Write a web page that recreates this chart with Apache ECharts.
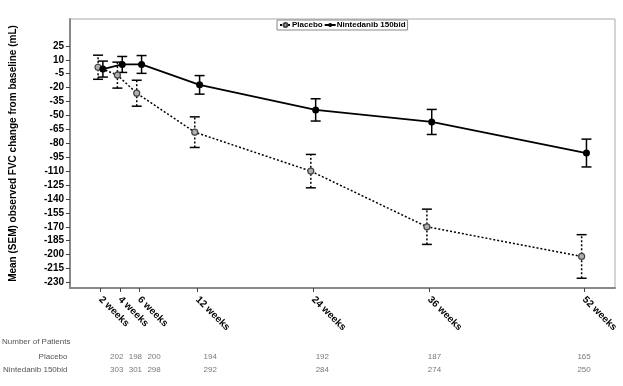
<!DOCTYPE html>
<html><head><meta charset="utf-8">
<script src="https://cdn.jsdelivr.net/npm/echarts@6/dist/echarts.min.js"></script>
<style>html,body{margin:0;padding:0;background:#fff}#c{width:623px;height:386px}</style>
</head><body><div id="c"></div>
<script>
// ---- data ----
const weeks = [2, 4, 6, 12, 24, 36, 52];
const weekLabels = ['2 weeks', '4 weeks', '6 weeks', '12 weeks', '24 weeks', '36 weeks', '52 weeks'];
const placeboMean = [2, -6.5, -26, -68, -110, -170, -202];
const placeboSem = [13, 14, 14, 16.5, 18, 19, 23.5];
const ninMean = [0, 5, 5, -17, -44, -57, -90.5];
const ninSem = [8.6, 8.6, 9.6, 10, 12, 13.5, 15];
const placeboN = [202, 198, 200, 194, 192, 187, 165];
const ninN = [303, 301, 298, 292, 284, 274, 250];
const yTicks = [25, 10, -5, -20, -35, -50, -65, -80, -95, -110, -125, -140, -155, -170, -185, -200, -215, -230];
const seriesNames = ['Placebo', 'Nintedanib 150bid'];
const dodge = 0.25;

const pts = (means, d) => weeks.map((w, i) => [w + d, means[i]]);
const errs = (means, sems, d) => weeks.map((w, i) => [w + d, means[i] - sems[i], means[i] + sems[i]]);

function errRender(dashed) {
  return function (params, api) {
    const x = api.value(0);
    const lo = api.coord([x, api.value(1)]);
    const hi = api.coord([x, api.value(2)]);
    const cw = 5;
    const st = { stroke: '#000', lineWidth: 1.5 };
    return {
      type: 'group',
      children: [
        { type: 'line', shape: { x1: lo[0], y1: lo[1], x2: hi[0], y2: hi[1] },
          style: Object.assign({}, st, dashed ? { lineDash: [2, 2] } : {}) },
        { type: 'line', shape: { x1: lo[0] - cw, y1: lo[1], x2: lo[0] + cw, y2: lo[1] }, style: st },
        { type: 'line', shape: { x1: hi[0] - cw, y1: hi[1], x2: hi[0] + cw, y2: hi[1] }, style: st }
      ]
    };
  };
}

const chart = echarts.init(document.getElementById('c'), null, { renderer: 'canvas' });
const font = 'Liberation Sans, Arial, sans-serif';
chart.setOption({
  animation: false,
  textStyle: { fontFamily: font },
  legend: {
    data: seriesNames,
    left: 277, top: 20,
    orient: 'horizontal',
    borderColor: '#888', borderWidth: 1,
    padding: [1, 2], itemGap: 1, itemWidth: 11, itemHeight: 5,
    textStyle: { fontSize: 8, fontWeight: 'bold', color: '#000', fontFamily: font, padding: [0, 0, 0, -4] }
  },
  grid: [
    { left: 70, top: 19, right: 8, bottom: 98, show: true, borderColor: '#aaa', borderWidth: 1 },
    { left: 70, top: 350, right: 8, height: 26 }
  ],
  xAxis: [
    {
      type: 'value', gridIndex: 0, min: -1.15, max: 55.2,
      axisLine: { show: true, onZero: false, lineStyle: { color: '#888', width: 2 } },
      axisTick: { show: true, length: 4, customValues: weeks, lineStyle: { color: '#444' } },
      axisLabel: {
        customValues: weeks, rotate: -45, margin: 10,
        fontSize: 10, fontWeight: 'bold', color: '#000', fontFamily: font,
        formatter: v => weekLabels[weeks.indexOf(v)]
      },
      splitLine: { show: false }
    },
    {
      type: 'value', gridIndex: 1, min: -2.94, max: 55.31, show: false
    }
  ],
  yAxis: [
    {
      type: 'value', gridIndex: 0, min: -236, max: 54,
      name: 'Mean (SEM) observed FVC change from baseline (mL)',
      nameLocation: 'middle', nameGap: 52, nameRotate: 90,
      nameTextStyle: { fontSize: 10, fontWeight: 'bold', color: '#000', fontFamily: font },
      axisLine: { show: true, onZero: false, lineStyle: { color: '#888', width: 2 } },
      axisTick: { show: true, length: 4, customValues: yTicks, lineStyle: { color: '#444' } },
      axisLabel: { customValues: yTicks, fontSize: 10, fontWeight: 'bold', color: '#000', margin: 6, fontFamily: font },
      splitLine: { show: false }
    },
    {
      type: 'category', gridIndex: 1, inverse: true, data: seriesNames,
      axisLine: { show: false }, axisTick: { show: false },
      axisLabel: { fontSize: 8, color: '#555', margin: 3, fontFamily: font }
    }
  ],
  graphic: [
    { type: 'text', left: 2, top: 338, style: { text: 'Number of Patients', fontSize: 8, fill: '#555', fontFamily: font } }
  ],
  series: [
    {
      type: 'custom', name: 'placeboErr', xAxisIndex: 0, yAxisIndex: 0,
      renderItem: errRender(true), data: errs(placeboMean, placeboSem, -dodge), z: 2, silent: true
    },
    {
      type: 'custom', name: 'ninErr', xAxisIndex: 0, yAxisIndex: 0,
      renderItem: errRender(false), data: errs(ninMean, ninSem, dodge), z: 2, silent: true
    },
    {
      type: 'line', name: seriesNames[0], xAxisIndex: 0, yAxisIndex: 0,
      data: pts(placeboMean, -dodge),
      symbol: 'circle', symbolSize: 6,
      itemStyle: { color: '#b0b0b0', borderColor: '#444', borderWidth: 1.2 },
      lineStyle: { color: '#000', width: 1.5, type: [2, 2] }, z: 3
    },
    {
      type: 'line', name: seriesNames[1], xAxisIndex: 0, yAxisIndex: 0,
      data: pts(ninMean, dodge),
      symbol: 'circle', symbolSize: 7,
      itemStyle: { color: '#000' },
      lineStyle: { color: '#000', width: 1.8 }, z: 4
    },
    {
      type: 'scatter', name: 'nPlacebo', xAxisIndex: 1, yAxisIndex: 1, symbolSize: 0, silent: true,
      data: weeks.map((w, i) => [w, seriesNames[0], placeboN[i]]),
      label: { show: true, position: 'inside', formatter: p => p.value[2], fontSize: 8, color: '#555', fontFamily: font }
    },
    {
      type: 'scatter', name: 'nNin', xAxisIndex: 1, yAxisIndex: 1, symbolSize: 0, silent: true,
      data: weeks.map((w, i) => [w, seriesNames[1], ninN[i]]),
      label: { show: true, position: 'inside', formatter: p => p.value[2], fontSize: 8, color: '#555', fontFamily: font }
    }
  ]
});
</script></body></html>
